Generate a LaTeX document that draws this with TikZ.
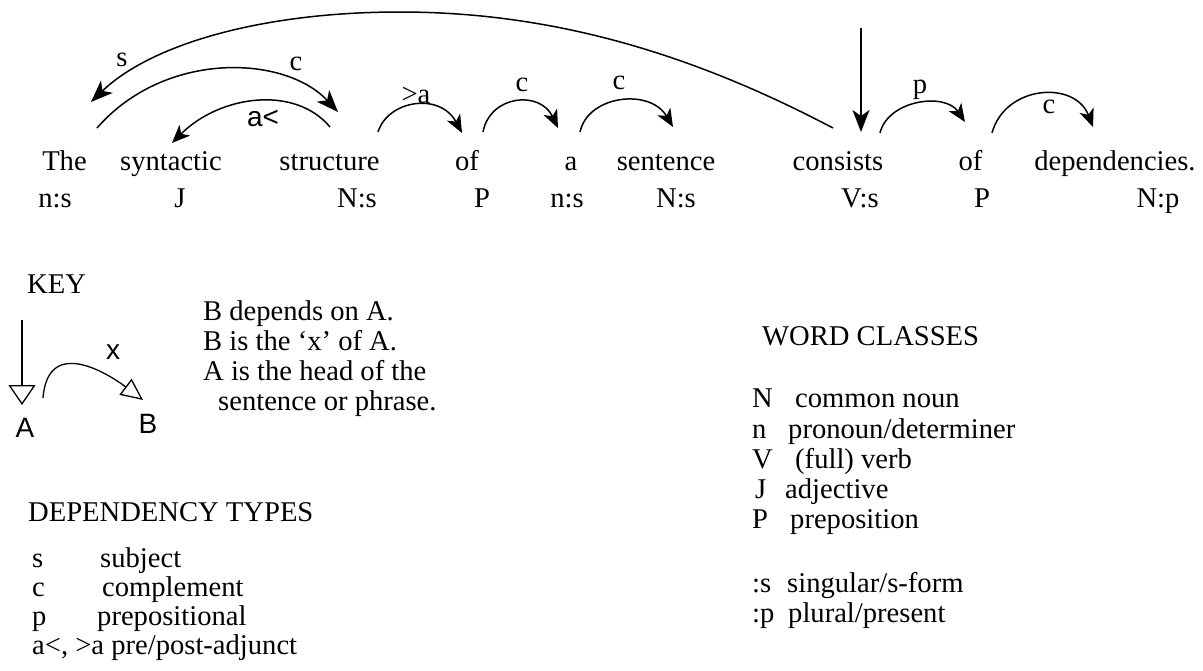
\documentclass[tikz,border=0pt]{standalone}
\usepackage{fontspec}
\setmainfont{Liberation Serif}
\newfontfamily\keysans{Liberation Sans}
\usetikzlibrary{arrows.meta,calc}
\begin{document}
\begin{tikzpicture}[x=1pt,y=-1pt,
  word/.style={anchor=base, inner sep=0pt, font=\fontsize{28.6}{30}\selectfont},
  lbl/.style={inner sep=0pt, font=\fontsize{28.6}{30}\selectfont},
  slbl/.style={inner sep=0pt, font=\keysans\fontsize{28}{30}\selectfont},
  sword/.style={anchor=base, inner sep=0pt, font=\keysans\fontsize{28}{30}\selectfont},
  txt/.style={anchor=base west, inner sep=0pt, font=\fontsize{28.6}{30}\selectfont},
  dep/.style={line width=1.5pt, -{Stealth[length=18pt,width=15pt,inset=5pt]}},
  bigdep/.style={line width=1.5pt, -{Stealth[length=22pt,width=17pt,inset=6pt]}},
  keytip/.style={line width=1.3pt, -{Triangle[open,length=20pt,width=27pt]}},
  keyarc/.style={line width=1.3pt, -{Triangle[open,length=22pt,width=20pt]}}]
\useasboundingbox (0,0) rectangle (1203,670);
% sentence words
\node[word] (w1) at (64.5,170) {The};
\node[word] (w2) at (171,170) {syntactic};
\node[word] (w3) at (329.5,170) {structure};
\node[word] (w4) at (467,170) {of};
\node[word] (w5) at (571,170) {a};
\node[word] (w6) at (666,170) {sentence};
\node[word] (w7) at (838,170) {consists};
\node[word] (w8) at (970.5,170) {of};
\node[word] (w9) at (1115,170) {dependencies.};
% word classes
\node[word] (c1) at (55,207) {n:s};
\node[word] (c2) at (180,207) {J};
\node[word] (c3) at (357,207) {N:s};
\node[word] (c4) at (482,207) {P};
\node[word] (c5) at (567,207) {n:s};
\node[word] (c6) at (676,207) {N:s};
\node[word] (c7) at (860,207) {V:s};
\node[word] (c8) at (982,207) {P};
\node[word] (c9) at (1158,207) {N:p};
% dependency labels
\node[lbl] (ls) at (122,60) {s};
\node[lbl] (lc1) at (296,64) {c};
\node[slbl] (la) at (263,118) {a<};
\node[lbl] (lpa) at (416,95) {>a};
\node[lbl] (lc2) at (522,85) {c};
\node[lbl] (lc3) at (619,83) {c};
\node[lbl] (lp) at (920,90) {p};
\node[lbl] (lc4) at (1049,107) {c};
% dependencies
\coordinate (root) at (861,28);
\draw[bigdep] ($(w7.base)+(-5,-42)$) .. controls (700,58) and (560,12) .. (400,12)
   .. controls (260,12) and (150,45) .. ($(w1.base)+(26.5,-68)$);
\draw[bigdep] ($(w1.base)+(32.5,-42)$) .. controls (165,50) and (285,55) .. ($(w3.base)+(8.5,-58)$);
\draw[dep] ($(w3.base)+(0.5,-43)$) .. controls (295,85) and (220,95) .. ($(w2.base)+(1,-27)$);
\draw[dep] ($(w3.base)+(48.5,-38)$) .. controls (388,100) and (440,92) .. ($(w4.base)+(-5,-37)$);
\draw[dep] ($(w4.base)+(16,-38)$) .. controls (490,95) and (540,90) .. ($(w5.base)+(-13,-42)$);
\draw[dep] ($(w5.base)+(9,-38)$) .. controls (588,95) and (650,88) .. ($(w6.base)+(7,-43)$);
\draw[bigdep] (root) -- ($(w7.base)+(23,-38)$);
\draw[dep] ($(w7.base)+(42,-37)$) .. controls (888,100) and (945,92) .. ($(w8.base)+(-5.5,-48)$);
\draw[dep] ($(w8.base)+(21.5,-37)$) .. controls (1005,85) and (1075,80) .. ($(w9.base)+(-22,-43)$);
% key
\node[txt] (key) at (27,293) {KEY};
\node[sword] (kA) at (25,437) {A};
\node[sword] (kB) at (148,433) {B};
\node[slbl] (kx) at (113,352) {x};
\coordinate (kroot) at (22,320);
\draw[keytip] (kroot) -- ($(kA.base)+(-3,-32)$);
\draw[keyarc] ($(kA.base)+(18,-39)$) .. controls (48,335) and (110,375) .. ($(kB.base)+(-5,-33)$);
\node[txt] (k1) at (203,320) {B depends on A.};
\node[txt] (k2) at (203,350) {B is the `x' of A.};
\node[txt] (k3) at (203,380) {A is the head of the};
\node[txt] (k4) at (218,410) {sentence or phrase.};
% dependency types
\node[txt] (dt) at (28,521) {DEPENDENCY TYPES};
\node[txt] (d1) at (32,567) {s};
\node[txt] (d1t) at (100,567) {subject};
\node[txt] (d2) at (32,596) {c};
\node[txt] (d2t) at (102,596) {complement};
\node[txt] (d3) at (32,625) {p};
\node[txt] (d3t) at (97,625) {prepositional};
\node[txt] (d4) at (32,654) {a<, >a pre/post-adjunct};
% word classes legend
\node[txt] (wc) at (762,345) {WORD CLASSES};
\node[txt] (n1) at (752,407) {N};
\node[txt] (n1t) at (795,407) {common noun};
\node[txt] (n2) at (752,438) {n};
\node[txt] (n2t) at (788,438) {pronoun/determiner};
\node[txt] (n3) at (752,468) {V};
\node[txt] (n3t) at (795,468) {(full) verb};
\node[txt] (n4) at (755,498) {J};
\node[txt] (n4t) at (785,498) {adjective};
\node[txt] (n5) at (752,528) {P};
\node[txt] (n5t) at (790,528) {preposition};
\node[txt] (n6) at (752,592) {:s};
\node[txt] (n6t) at (787,592) {singular/s-form};
\node[txt] (n7) at (752,622) {:p};
\node[txt] (n7t) at (788,622) {plural/present};
\end{tikzpicture}
\end{document}
